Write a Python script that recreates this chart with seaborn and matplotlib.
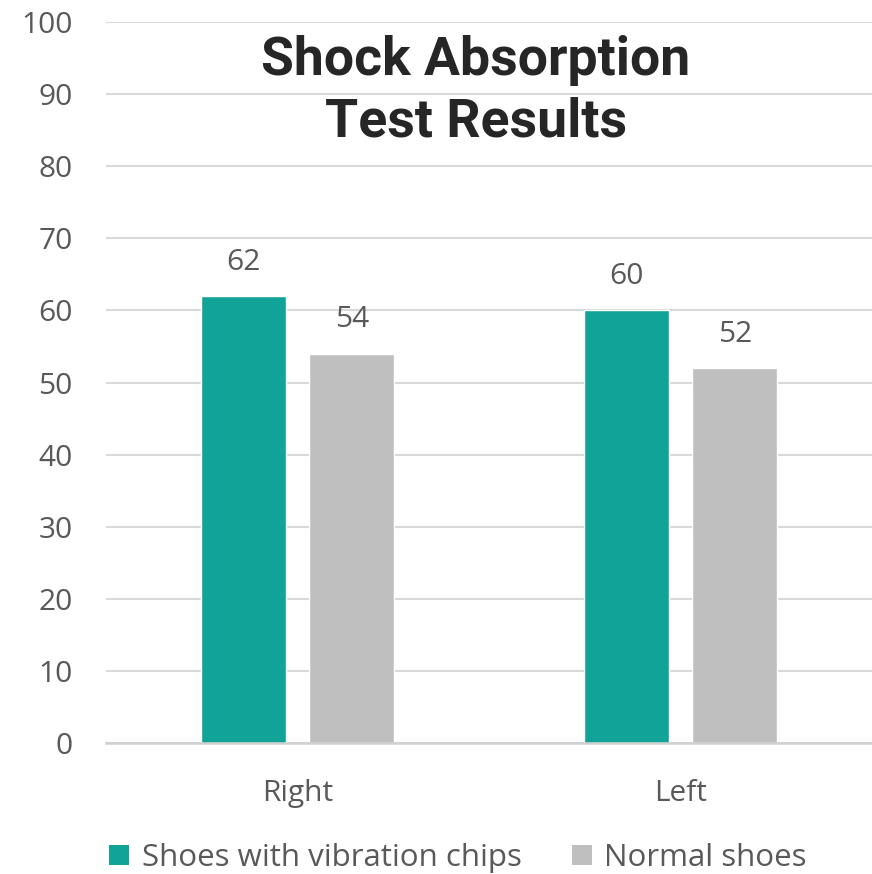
import matplotlib
matplotlib.use("Agg")
import matplotlib.pyplot as plt
import seaborn as sns
import pandas as pd
from matplotlib.patches import Patch

categories = ["Right", "Left"]
series_names = ["Shoes with vibration chips", "Normal shoes"]
chip_values = [62, 60]
normal_values = [54, 52]
y_ticks = [0, 10, 20, 30, 40, 50, 60, 70, 80, 90, 100]
title_text = "Shock Absorption\nTest Results"

colors = ["#11A398", "#BFBFBF"]
text_color = "#595959"

df = pd.DataFrame({
    "side": categories * 2,
    "series": [series_names[0]] * 2 + [series_names[1]] * 2,
    "value": chip_values + normal_values,
})

sns.set_theme(style="white")
plt.rcParams["font.family"] = ["Open Sans", "DejaVu Sans"]

fig = plt.figure(figsize=(8.72, 8.74), dpi=100)
ax = fig.add_axes([106/872, 1 - 743/874, 1 - 106/872, (743 - 22)/874])

sns.barplot(data=df, x="side", y="value", hue="series", order=categories,
            hue_order=series_names, palette=colors, width=0.569, gap=0.22,
            saturation=1, ax=ax, legend=False)

ax.set_xlim(-0.5, 1.5)
ax.set_ylim(0, 100)
ax.set_yticks(y_ticks)
ax.set_yticklabels([str(t) for t in y_ticks])
ax.grid(axis="y", color="#D9D9D9", linewidth=1.5)
ax.set_axisbelow(True)
for s in ["top", "right", "left"]:
    ax.spines[s].set_visible(False)
ax.spines["bottom"].set_color("#D0D0D0")
ax.spines["bottom"].set_linewidth(1.8)
ax.tick_params(axis="y", length=0, pad=24, labelsize=21.5, labelcolor=text_color)
ax.tick_params(axis="x", length=0, pad=26, labelsize=21.5, labelcolor=text_color)
ax.set_xlabel("")
ax.set_ylabel("")

for cont in ax.containers:
    ax.bar_label(cont, fmt="%g", padding=14, fontsize=21.5, color=text_color)

fig.text(476/872, 1 - 91/874, title_text, ha="center", va="center",
         fontsize=38.5, fontweight="bold", color="#262626", family="Roboto",
         linespacing=1.27)

handles = [Patch(facecolor=c, edgecolor="none") for c in colors]
fig.legend(handles, series_names, loc="center", bbox_to_anchor=(458/872, 1 - 858/874),
           ncol=2, frameon=False, fontsize=22.5, labelcolor=text_color,
           handlelength=0.65, handleheight=0.65, handletextpad=0.4, columnspacing=1.6)

fig.savefig("out.png", dpi=100)
